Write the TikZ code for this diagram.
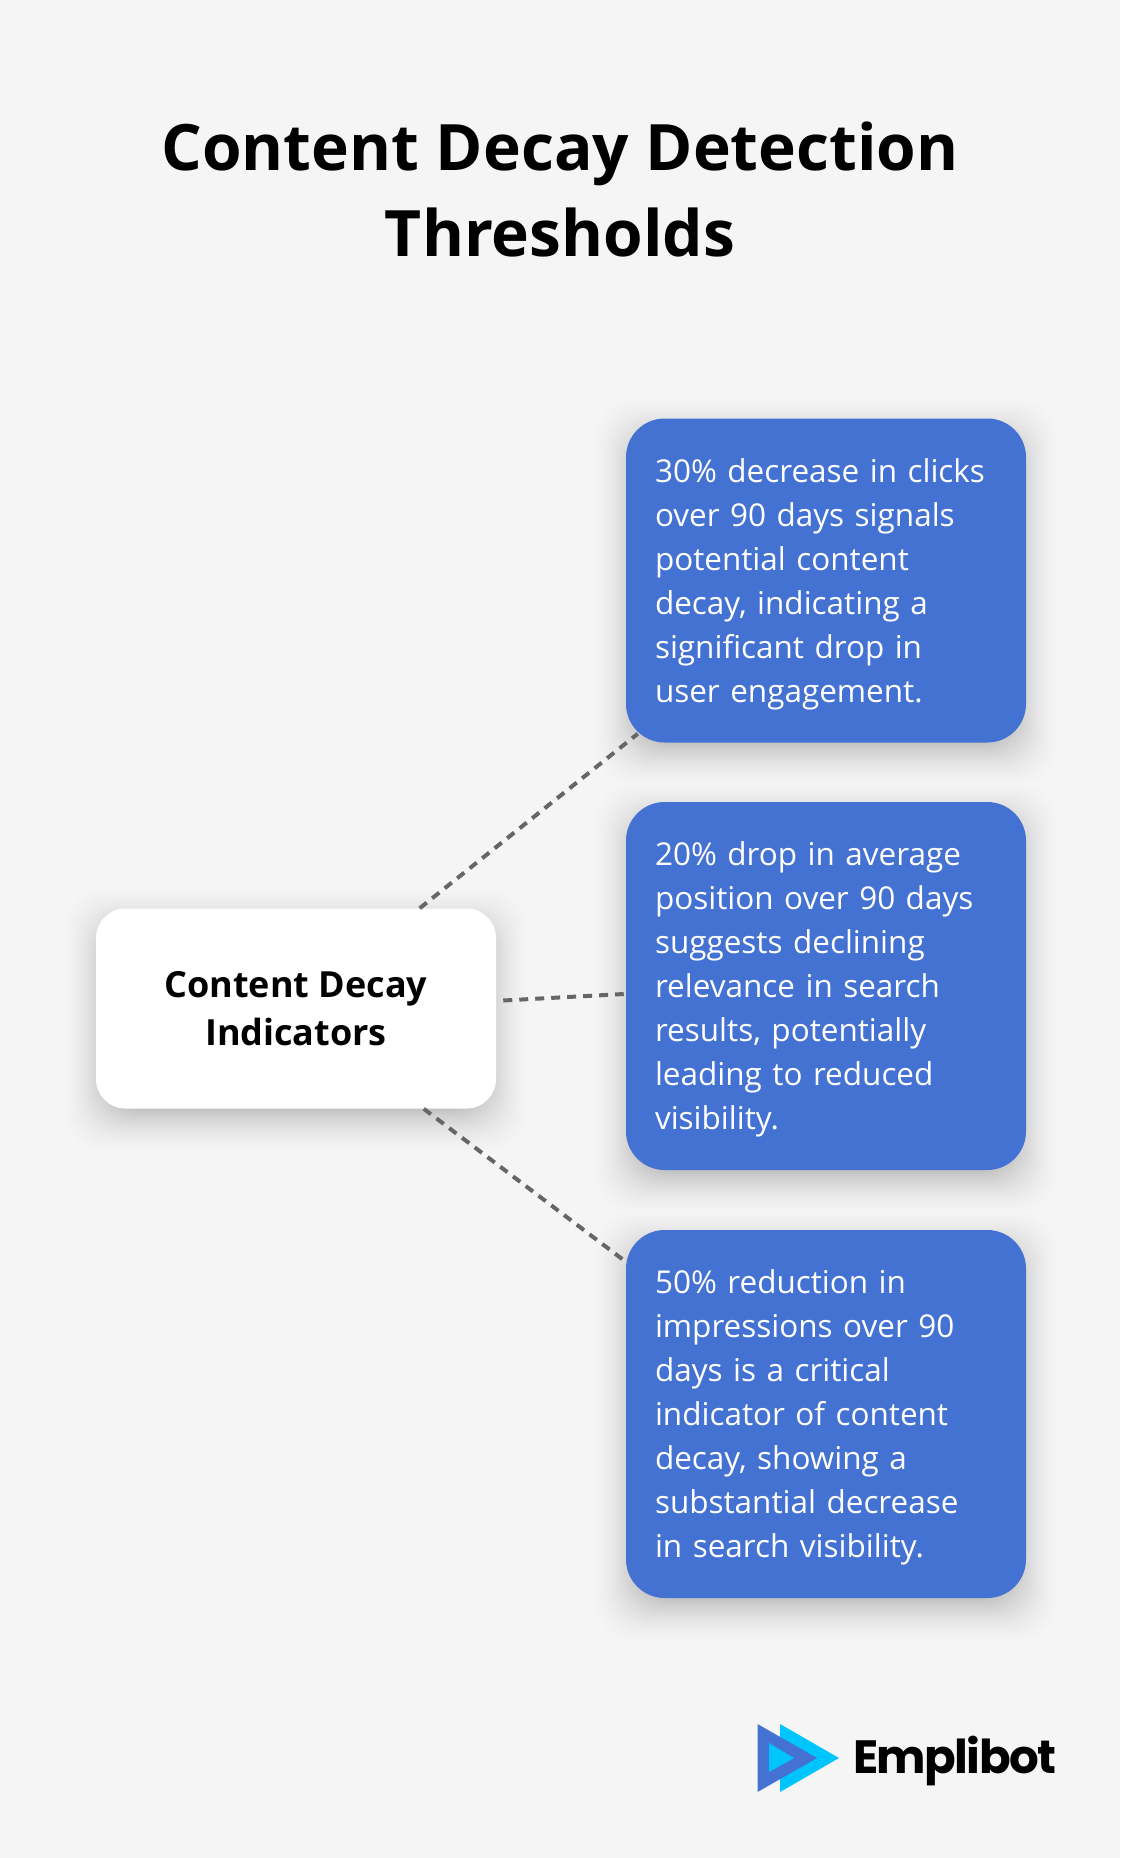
\documentclass[tikz,border=0pt]{standalone}
\usepackage{fontspec}
\setmainfont{Open Sans}
\newfontfamily\logofont{Poppins Bold}[LetterSpace=-3.5]
\usetikzlibrary{calc}
\definecolor{bgc}{HTML}{F5F5F5}
\definecolor{boxblue}{HTML}{4472D3}
\definecolor{logocyan}{HTML}{00C4FC}
\definecolor{dashc}{HTML}{666666}
\newcommand{\softshadow}[4]{% x0 y0 x1 y1
  \foreach \k in {1,...,30}{
    \pgfmathsetmacro{\ee}{55*(1-sqrt(\k/30))-15}
    \fill[black,opacity=0.0085,rounded corners=28pt]
      ({#1-\ee},{#2-\ee+12}) rectangle ({#3+\ee},{#4+\ee+12});
  }}
\tikzset{
  x=0.75pt,y=-0.75pt,
  whitebox/.style={fill=white,rounded corners=22pt,minimum width=300pt,minimum height=150pt,inner sep=0pt,align=center,font=\fontsize{27pt}{36pt}\selectfont\bfseries,text=black},
  bluebox/.style={fill=boxblue,rounded corners=29pt,minimum width=300pt,inner sep=0pt,text=white,align=left,text width=256.5pt,font=\fontsize{23.6pt}{33pt}\selectfont},
  titletext/.style={font=\fontsize{48pt}{65pt}\selectfont\bfseries,align=center,text=black,inner sep=0pt},
  link/.style={draw=dashc,line width=3pt,dash pattern=on 6.75pt off 5.25pt},
}
\begin{document}
\begin{tikzpicture}
\useasboundingbox (0,0) rectangle (1120,1858);
\fill[bgc] (0,0) rectangle (1120,1858);
\softshadow{96}{908}{496}{1108}
\softshadow{626}{418}{1026}{742}
\softshadow{626}{802}{1026}{1170}
\softshadow{626}{1230}{1026}{1598}
\node[titletext] (title) at (560,189.5) {Content Decay Detection\\Thresholds};
\node[whitebox] (center) at (296,1008.5) {Content Decay\\Indicators};
\node[bluebox,minimum height=243pt] (b1) at (826,580.5) {30\% decrease in clicks\\over 90 days signals\\potential content\\decay, indicating a\\significant drop in\\user engagement.\vspace*{-5.25pt}};
\node[bluebox,minimum height=276pt] (b2) at (826,986) {20\% drop in average\\position over 90 days\\suggests declining\\relevance in search\\results, potentially\\leading to reduced\\visibility.\vspace*{-5.25pt}};
\node[bluebox,minimum height=276pt] (b3) at (826,1414) {50\% reduction in\\impressions over 90\\days is a critical\\indicator of content\\decay, showing a\\substantial decrease\\in search visibility.\vspace*{-5.25pt}};
\draw[link] ($(center.north west)+(324,0)$) -- ($(b1.south west)+(12,-9)$);
\draw[link] ($(center.east)+(7,-8)$) -- ($(b2.west)+(-2,8)$);
\draw[link] ($(center.south west)+(328,0)$) -- ($(b3.north west)+(0,32)$);
% logo
\fill[logocyan] (780,1724) -- (780,1792) -- (839,1758) -- cycle;
\fill[boxblue] (757.5,1724) -- (757.5,1792) -- (817,1758) -- cycle;
\fill[logocyan] (769,1743) -- (769,1772) -- (794,1758) -- cycle;
\node[anchor=base west,inner sep=0pt,font=\logofont\fontsize{35pt}{35pt}\selectfont,text=black] (logo) at (853,1773) {Emplibot};
\end{tikzpicture}
\end{document}
